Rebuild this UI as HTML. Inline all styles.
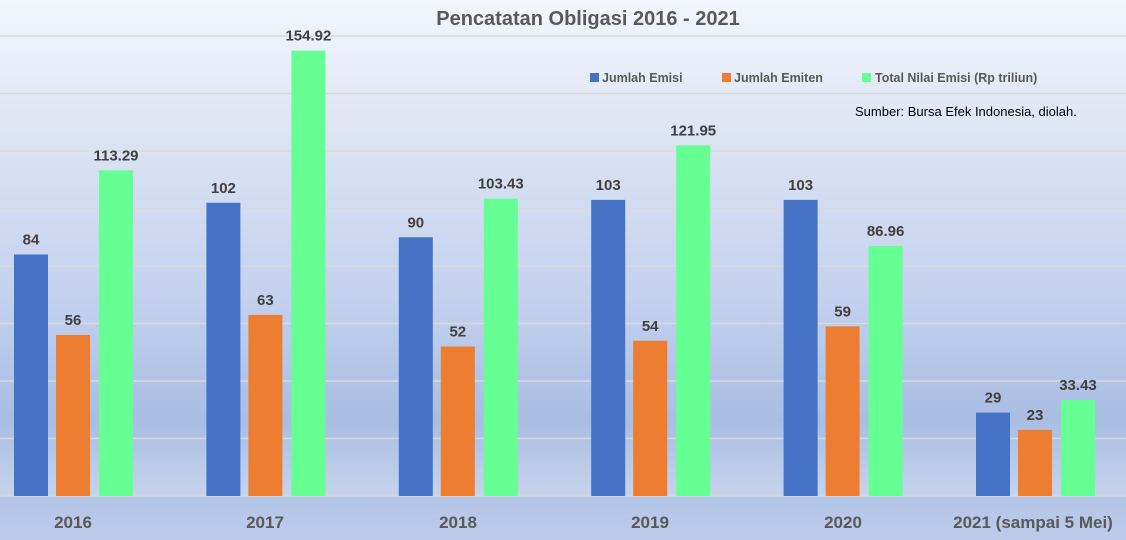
<!DOCTYPE html>
<html><head><meta charset="utf-8"><style>
html,body{margin:0;padding:0}
body{width:1126px;height:540px;overflow:hidden;font-family:"Liberation Sans",sans-serif;
background:linear-gradient(to bottom,#f3f6fd 0px,#dfe6f4 120px,#c3d1ee 300px,#a9bde3 420px,#c6d3ec 495px,#b3c5e7 497px,#bccbea 540px);}
</style></head><body>
<svg width="1126" height="540" xmlns="http://www.w3.org/2000/svg" style="position:absolute;left:0;top:0">
<g stroke="#d9d9d9" stroke-width="1.5">
<line x1="0" x2="1126" y1="36" y2="36"/>
<line x1="0" x2="1126" y1="93.5" y2="93.5"/>
<line x1="0" x2="1126" y1="151" y2="151"/>
<line x1="0" x2="1126" y1="208.5" y2="208.5"/>
<line x1="0" x2="1126" y1="266" y2="266"/>
<line x1="0" x2="1126" y1="323.5" y2="323.5"/>
<line x1="0" x2="1126" y1="381" y2="381"/>
<line x1="0" x2="1126" y1="438.5" y2="438.5"/>
<line x1="0" x2="1126" y1="496" y2="496"/>
</g>
<text x="588" y="25" text-anchor="middle" font-size="20" font-weight="bold" fill="#595959">Pencatatan Obligasi 2016 - 2021</text>
<g font-size="12.5" font-weight="bold" fill="#595959">
<rect x="590" y="73" width="9" height="9" fill="#4472c4"/><text x="602" y="82">Jumlah Emisi</text>
<rect x="722" y="73" width="9" height="9" fill="#ed7d31"/><text x="734" y="82">Jumlah Emiten</text>
<rect x="862" y="73" width="9" height="9" fill="#66ff94"/><text x="875" y="82">Total Nilai Emisi (Rp triliun)</text>
</g>
<text x="855" y="116" font-size="13" fill="#000">Sumber: Bursa Efek Indonesia, diolah.</text>
<g id="bars" font-size="15" font-weight="bold" fill="#404040" text-anchor="middle"></g>
<g font-size="17" font-weight="bold" fill="#595959" text-anchor="middle">
<text x="73" y="528">2016</text><text x="265" y="528">2017</text><text x="458" y="528">2018</text>
<text x="650" y="528">2019</text><text x="843" y="528">2020</text><text x="1033" y="528">2021 (sampai 5 Mei)</text>
</g>
</svg>
<script>
var d=[[84,56,113.29],[102,63,154.92],[90,52,103.43],[103,54,121.95],[103,59,86.96],[29,23,33.43]];
var lab=[["84","56","113.29"],["102","63","154.92"],["90","52","103.43"],["103","54","121.95"],["103","59","86.96"],["29","23","33.43"]];
var c=["#4472c4","#ed7d31","#66ff94"],off=[14,56,99],g=document.getElementById("bars"),s="";
for(var i=0;i<6;i++)for(var j=0;j<3;j++){var x=off[j]+i*192.4,h=d[i][j]*2.875,y=496-h;
s+='<rect x="'+x+'" y="'+y+'" width="34" height="'+h+'" fill="'+c[j]+'"/>';
s+='<text x="'+(x+17)+'" y="'+(y-10)+'">'+lab[i][j]+'</text>';}
g.innerHTML=s;
</script>
</body></html>
